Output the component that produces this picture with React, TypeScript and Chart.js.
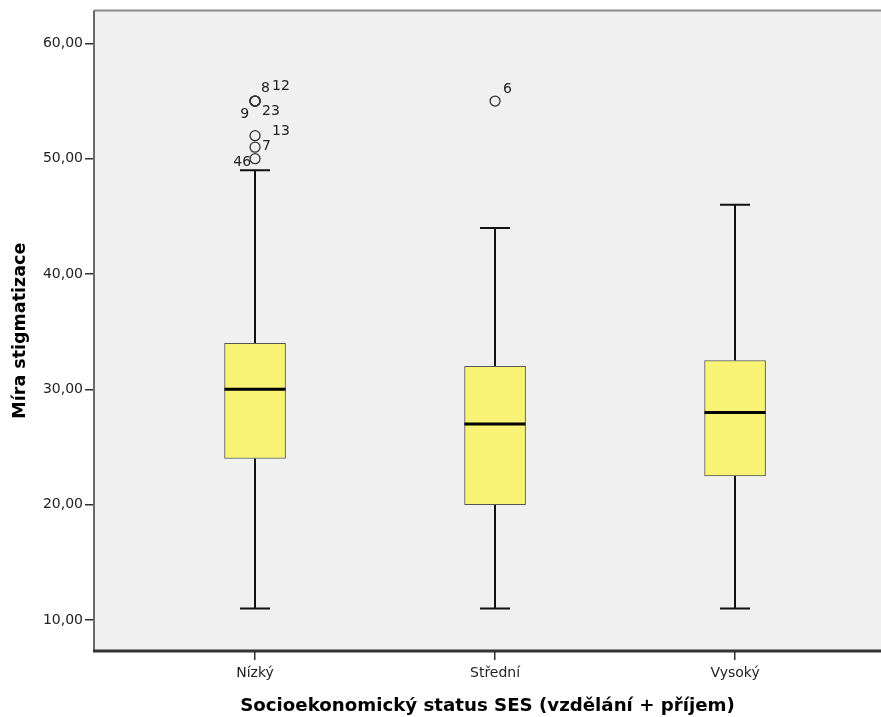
import React, { useEffect, useRef } from "react";
import { Chart, registerables } from "chart.js";
Chart.register(...registerables);

const categories = ["Nízký", "Střední", "Vysoký"];
const whiskerLow = [11, 11, 11];
const q1 = [24, 20, 22.5];
const median = [30, 27, 28];
const q3 = [34, 32, 32.5];
const whiskerHigh = [49, 44, 46];

const outlierGroup = [0, 0, 0, 0, 0, 0, 0, 1];
const outlierValue = [55, 55, 55, 55, 52, 51, 50, 55];
const outlierLabel = ["8", "12", "9", "23", "13", "7", "46", "6"];

const yTicks = [10, 20, 30, 40, 50, 60];
const yTitle = "Míra stigmatizace";
const xTitle = "Socioekonomický status SES (vzdělání + příjem)";

// label placement (style): dx, dy in px from the point, alignment
const labelStyle: Record<string, [number, number, CanvasTextAlign]> = {
  "8": [6, -13, "left"],
  "12": [17, -15, "left"],
  "9": [-6, 13, "right"],
  "23": [7, 10, "left"],
  "13": [17, -4, "left"],
  "7": [7, -1, "left"],
  "46": [-4, 4, "right"],
  "6": [8, -12, "left"],
};

const BOX_FILL = "#F8F374";
const PLOT_BG = "#F0F0F0";
const BOX_W = 61;
const CAP_W = 30;
const TICK_FONT = { family: "DejaVu Sans", size: 14 };

export default function App() {
  const ref = useRef<HTMLCanvasElement>(null);
  useEffect(() => {
    document.body.style.margin = "0";
    const canvas = ref.current!;
    const plugin = {
      id: "boxplotDeco",
      beforeDatasetsDraw(chart: any) {
        const { ctx, chartArea: a, scales } = chart;
        const x = scales.x, y = scales.y;
        ctx.save();
        ctx.fillStyle = PLOT_BG;
        ctx.fillRect(a.left, a.top, a.right - a.left, a.bottom - a.top);
        ctx.strokeStyle = "#111";
        ctx.lineWidth = 2;
        categories.forEach((_, i) => {
          const cx = Math.round(x.getPixelForValue(i));
          const yl = y.getPixelForValue(whiskerLow[i]);
          const yq1 = y.getPixelForValue(q1[i]);
          const yq3 = y.getPixelForValue(q3[i]);
          const yh = y.getPixelForValue(whiskerHigh[i]);
          ctx.beginPath();
          ctx.moveTo(cx, yl);
          ctx.lineTo(cx, yq1);
          ctx.moveTo(cx, yq3);
          ctx.lineTo(cx, yh);
          ctx.moveTo(cx - CAP_W / 2, yl);
          ctx.lineTo(cx + CAP_W / 2, yl);
          ctx.moveTo(cx - CAP_W / 2, yh);
          ctx.lineTo(cx + CAP_W / 2, yh);
          ctx.stroke();
        });
        ctx.restore();
      },
      afterDatasetsDraw(chart: any) {
        const { ctx, scales } = chart;
        const x = scales.x, y = scales.y;
        ctx.save();
        ctx.strokeStyle = "#000";
        ctx.lineWidth = 3;
        categories.forEach((_, i) => {
          const cx = Math.round(x.getPixelForValue(i));
          const ym = y.getPixelForValue(median[i]);
          ctx.beginPath();
          ctx.moveTo(cx - BOX_W / 2, ym);
          ctx.lineTo(cx + BOX_W / 2, ym);
          ctx.stroke();
        });
        ctx.fillStyle = "#222";
        ctx.font = "14px 'DejaVu Sans'";
        ctx.textBaseline = "middle";
        outlierLabel.forEach((lab, k) => {
          const px = x.getPixelForValue(outlierGroup[k]);
          const py = y.getPixelForValue(outlierValue[k]);
          const [dx, dy, al] = labelStyle[lab];
          ctx.textAlign = al;
          ctx.fillText(lab, px + dx, py + dy);
        });
        ctx.restore();
      },
      afterDraw(chart: any) {
        const { ctx, chartArea: a } = chart;
        ctx.save();
        ctx.strokeStyle = "#8a8a8a";
        ctx.lineWidth = 2;
        ctx.beginPath();
        ctx.moveTo(a.left, a.top);
        ctx.lineTo(a.right, a.top);
        ctx.stroke();
        ctx.strokeStyle = "#6a6a6a";
        ctx.beginPath();
        ctx.moveTo(a.left, a.top);
        ctx.lineTo(a.left, a.bottom);
        ctx.stroke();
        ctx.strokeStyle = "#333";
        ctx.lineWidth = 3;
        ctx.beginPath();
        ctx.moveTo(a.left - 1, a.bottom);
        ctx.lineTo(a.right, a.bottom);
        ctx.stroke();
        ctx.restore();
      },
    };

    const chart = new Chart(canvas, {
      type: "bar",
      data: {
        datasets: [
          {
            type: "bar",
            data: categories.map((_, i) => ({ x: i, y: [q1[i], q3[i]] })) as any,
            backgroundColor: BOX_FILL,
            borderColor: "#555",
            borderWidth: 1,
            borderSkipped: false,
            barThickness: BOX_W,
            grouped: false,
          } as any,
          {
            type: "scatter",
            data: outlierValue.map((v, k) => ({ x: outlierGroup[k], y: v })),
            pointRadius: 5,
            pointBorderWidth: 1.3,
            pointBorderColor: "#333",
            pointBackgroundColor: "rgba(0,0,0,0)",
            showLine: false,
          } as any,
        ],
      },
      options: {
        animation: false,
        responsive: false,
        layout: { autoPadding: false, padding: { top: 10, right: 0, left: 0, bottom: 0 } },
        plugins: { legend: { display: false }, tooltip: { enabled: false } },
        scales: {
          x: {
            type: "linear",
            offset: false,
            min: -0.671,
            max: 2.608,
            afterBuildTicks: (s: any) => {
              s.ticks = categories.map((_, i) => ({ value: i }));
            },
            afterFit: (s: any) => {
              s.height = 66;
            },
            ticks: {
              autoSkip: false,
              maxRotation: 0,
              padding: 5,
              font: TICK_FONT,
              color: "#222",
              callback: (v: any) => categories[v] ?? "",
            },
            grid: { offset: false, drawOnChartArea: false, drawTicks: true, tickLength: 9, color: "#333", lineWidth: 1.5 },
            border: { display: false },
            title: {
              display: true,
              text: xTitle,
              font: { family: "DejaVu Sans", size: 18.2, weight: "bold" },
              color: "#000",
              padding: { top: 0, bottom: 0 },
            },
          },
          y: {
            type: "linear",
            min: 7.31,
            max: 62.86,
            afterBuildTicks: (s: any) => {
              s.ticks = yTicks.map((v) => ({ value: v }));
            },
            afterFit: (s: any) => {
              s.width = 94;
            },
            ticks: {
              padding: 2,
              font: TICK_FONT,
              color: "#222",
              callback: (v: any) => Number(v).toFixed(2).replace(".", ","),
            },
            grid: { drawOnChartArea: false, drawTicks: true, tickLength: 9, color: "#333", lineWidth: 1.5 },
            border: { display: false },
            title: {
              display: true,
              text: yTitle,
              font: { family: "DejaVu Sans", size: 17.5, weight: "bold" },
              color: "#000",
              padding: { top: 10, bottom: 0 },
            },
          },
        },
      } as any,
      plugins: [plugin],
    });
    return () => chart.destroy();
  }, []);
  return <canvas ref={ref} width={881} height={717} style={{ display: "block" }} />;
}
